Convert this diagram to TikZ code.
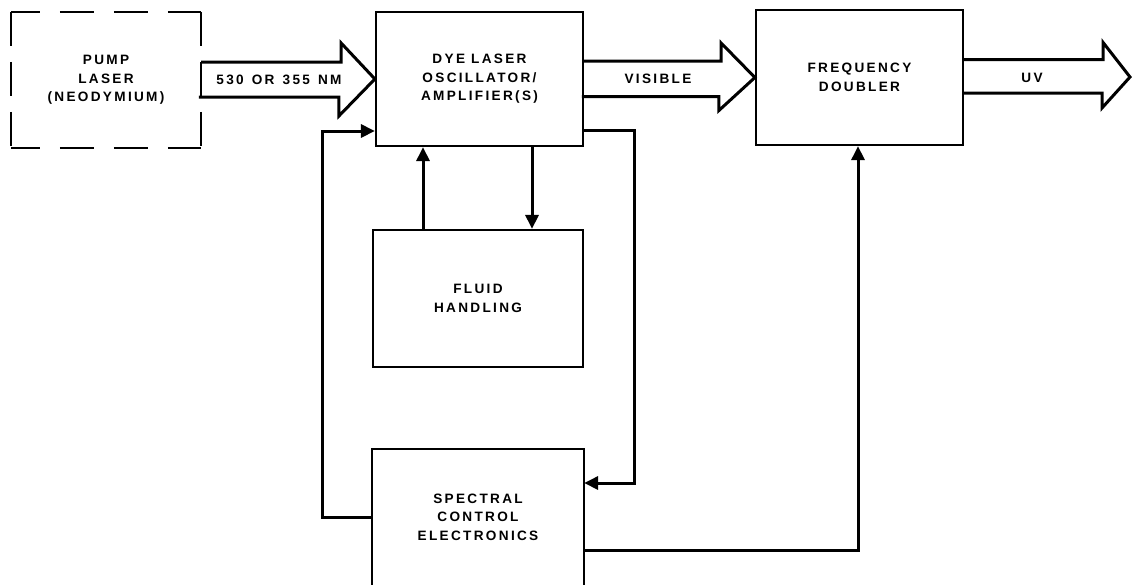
\documentclass[tikz,border=0pt]{standalone}
\usepackage{fontspec}
\setmainfont{Liberation Sans}[LetterSpace=17]
\usetikzlibrary{arrows.meta,calc}
\begin{document}
\begin{tikzpicture}[x=1pt,y=-1pt,
  box/.style={draw,line width=2.2pt,inner sep=0pt,align=center,font=\fontsize{13.6}{18.5}\selectfont\bfseries},
  hdash/.style={line width=2.2pt,dash pattern=on 34pt off 20pt,dash phase=5pt},
  vdash/.style={line width=2.2pt,dash pattern=on 34pt off 16pt},
  conn/.style={line width=3pt,-{Triangle[length=14pt,width=13pt]}},
  bigarr/.style={line width=3pt,line join=miter},
  lbl/.style={font=\fontsize{13.6}{18.5}\selectfont\bfseries,inner sep=0pt}]
\useasboundingbox (0,0) rectangle (1132,584);
\clip (0,0) rectangle (1132,584);
\node[box,draw=none,minimum width=188pt,minimum height=134pt] (pump) at (106,80) {PUMP\\LASER\\(NEODYMIUM)};
\draw[hdash] (pump.north west) -- (pump.north east);
\draw[hdash] (pump.south west) -- (pump.south east);
\draw[vdash] (pump.north west) -- (pump.south west);
\draw[vdash] (pump.north east) -- (pump.south east);
\node[box,minimum width=207pt,minimum height=134pt] (dye) at (479.5,79) {DYE LASER\\OSCILLATOR/\\AMPLIFIER(S)};
\node[box,minimum width=207pt,minimum height=135pt] (freq) at (859.5,77.5) {FREQUENCY\\DOUBLER};
\node[box,minimum width=210pt,minimum height=137pt] (fluid) at (478,298.5) {FLUID\\HANDLING};
\node[box,draw=none,minimum width=210pt,minimum height=134pt] (spec) at (478,517) {SPECTRAL\\CONTROL\\ELECTRONICS};
\draw[line width=2.2pt] (spec.south west) -- (spec.north west) -- (spec.north east) -- (spec.south east);
\coordinate (uvtip) at (1130,77);
% big arrows
\draw[bigarr] (pump.east) ++(0,-18) -- ++(140,0) -- ++(0,-19) -- (dye.west) -- ++(-36,37) -- ++(0,-19) -- ++(-140,0);
\draw[bigarr] (dye.east) ++(0,-18) -- ++(137,0) -- ++(0,-18) -- (freq.west) -- ++(-36,33) -- ++(0,-14) -- ++(-137,0);
\draw[bigarr] (freq.east) ++(0,-18) -- ++(139,0) -- ++(0,-17) -- (uvtip) -- ++(-28,31) -- ++(0,-15) -- ++(-139,0);
\node[lbl] (l530) at (279,80) {530\hspace{2pt} OR\hspace{2pt} 355\hspace{2pt} NM};
\node[lbl] (lvis) at (658,79) {VISIBLE};
\node[lbl] (luv) at (1032,78) {UV};
% connectors
\coordinate (lx) at (322,131);
\draw[conn] (spec.west) -| (lx) -- (lx -| dye.west);
\coordinate (ua) at (423,0);
\coordinate (da) at (532,0);
\draw[conn] (fluid.north -| ua) -- (dye.south -| ua);
\draw[conn] (dye.south -| da) -- (fluid.north -| da);
\coordinate (rx) at (634,130);
\coordinate (ry) at (634,483);
\draw[conn] (dye.east |- rx) -- (rx) -- (ry) -- (ry -| spec.east);
\coordinate (bx) at (858,550);
\draw[conn] (bx -| spec.east) -- (bx) -- (bx |- freq.south);
\end{tikzpicture}
\end{document}
